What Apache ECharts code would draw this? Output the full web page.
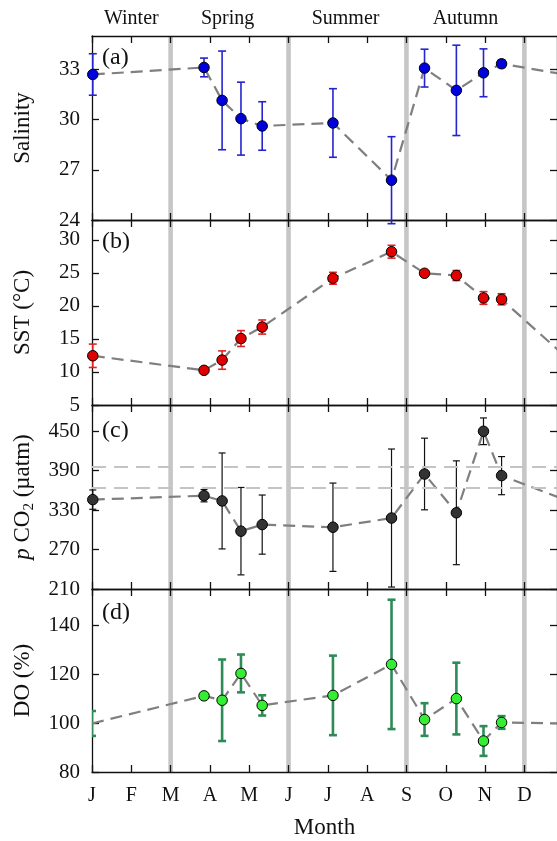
<!DOCTYPE html>
<html>
<head>
<meta charset="utf-8">
<script src="https://cdn.jsdelivr.net/npm/echarts@6/dist/echarts.min.js"></script>
<style>
  html, body { margin: 0; padding: 0; background: #fff; }
  #chart { width: 557px; height: 841px; }
</style>
</head>
<body>
<div id="chart"></div>
<script>
// Month axis: 0 = start of January, one unit per month
const monthNames = ['J', 'F', 'M', 'A', 'M', 'J', 'J', 'A', 'S', 'O', 'N', 'D'];
const monthTicks = [0, 1, 2, 3, 4, 5, 6, 7, 8, 9, 10, 11];
const seasonNames = ['Winter', 'Spring', 'Summer', 'Autumn'];
const seasonLabelPos = [1, 3.45, 6.45, 9.5];
const seasonBounds = [2, 5, 8, 11];

// Sampling dates (fractional month)
const sampleMonth = [0.02, 2.85, 3.31, 3.79, 4.33, 6.13, 7.62, 8.46, 9.27, 9.96, 10.42];
const doMonth = [0.0, 2.85, 3.31, 3.79, 4.33, 6.13, 7.62, 8.46, 9.27, 9.96, 10.42];

// (a) Salinity
const salinity    = [32.7, 33.12, 31.15, 30.06, 29.62, 29.8, 26.38, 33.08, 31.75, 32.8, 33.34];
const salinityErr = [1.24, 0.56, 2.95, 2.18, 1.45, 2.05, 2.6, 1.13, 2.7, 1.43, 0.22];
// (b) Sea surface temperature
const sst    = [12.45, 10.25, 11.8, 15.06, 16.8, 24.18, 28.2, 24.94, 24.6, 21.2, 21.0];
const sstErr = [1.77, 0.3, 1.39, 1.2, 1.07, 0.9, 0.97, 0.3, 0.76, 0.96, 0.84];
// (c) pCO2
const pco2    = [346, 352, 344, 298, 308, 304, 318, 385, 326, 450, 382.5];
const pco2Err = [14.7, 9.4, 73, 66.5, 45, 67.2, 105, 54.5, 79, 20.3, 29];
const atmPco2Range = [364, 396];
// (d) Dissolved oxygen saturation
const doSat = [99.9, 111.2, 109.4, 120.4, 107.3, 111.4, 124.1, 101.5, 110.1, 92.7, 100.3];
const doErr = [5.1, 0.8, 16.7, 7.75, 4.15, 16.3, 26.5, 6.7, 14.7, 6.1, 2.6];

// Axis ticks
const salTicks = [24, 27, 30, 33];
const sstTicks = [5, 10, 15, 20, 25, 30];
const pco2Ticks = [210, 270, 330, 390, 450];
const doTicks = [80, 100, 120, 140];

const FONT = 'Liberation Serif';
const INK = '#111';
const X_MAX = 11.83;

const panels = [
  { top: 36,  height: 184, min: 24,  max: 35,  ticks: salTicks,  name: 'Salinity', tag: '(a)', tagY: 58 },
  { top: 220, height: 185, min: 5,   max: 33,  ticks: sstTicks,  name: 'SST (°C)', tag: '(b)', tagY: 242 },
  { top: 405, height: 184, min: 210, max: 490, ticks: pco2Ticks, name: '{i|p} CO{s|2} (µatm)', tag: '(c)', tagY: 431 },
  { top: 589, height: 183, min: 80,  max: 155, ticks: doTicks,   name: 'DO (%)', tag: '(d)', tagY: 613 }
];

const axisLine = { show: true, onZero: false, lineStyle: { color: INK, width: 1.3 } };
const tickStyle = (vals) => ({ show: true, inside: true, length: 7, customValues: vals, lineStyle: { color: INK, width: 1.3 } });

const grids = [], xAxes = [], yAxes = [], series = [], graphics = [];

panels.forEach((p, gi) => {
  grids.push({ left: 92, width: 466, top: p.top, height: p.height });

  // bottom month axis
  xAxes.push({
    type: 'value', gridIndex: gi, position: 'bottom', min: 0, max: X_MAX,
    axisLine, axisTick: tickStyle(monthTicks), splitLine: { show: false },
    axisLabel: gi === 3 ? {
      show: true, customValues: monthTicks, margin: 14,
      fontFamily: FONT, fontSize: 20, color: INK,
      formatter: v => monthNames[Math.round(v)]
    } : { show: false },
    name: gi === 3 ? 'Month' : '', nameLocation: 'middle', nameGap: 44,
    nameTextStyle: { fontFamily: FONT, fontSize: 23, color: INK }
  });
  // top month axis (season names above the first panel)
  xAxes.push({
    type: 'value', gridIndex: gi, position: 'top', min: 0, max: X_MAX,
    axisLine, axisTick: tickStyle(monthTicks), splitLine: { show: false },
    axisLabel: gi === 0 ? {
      show: true, customValues: seasonLabelPos, margin: 7,
      fontFamily: FONT, fontSize: 20, color: INK,
      formatter: v => seasonNames[seasonLabelPos.indexOf(v)]
    } : { show: false }
  });
  // left value axis
  yAxes.push({
    type: 'value', gridIndex: gi, position: 'left', min: p.min, max: p.max,
    axisLine, axisTick: tickStyle(p.ticks), splitLine: { show: false },
    axisLabel: { show: true, customValues: p.ticks, margin: 12, fontFamily: FONT, fontSize: 21, color: INK },
    name: p.name, nameLocation: 'middle', nameGap: 55,
    nameTextStyle: {
      fontFamily: FONT, fontSize: 23, color: INK, lineHeight: 28,
      rich: {
        i: { fontFamily: FONT, fontSize: 23, fontStyle: 'italic', color: INK, lineHeight: 28 },
        s: { fontFamily: FONT, fontSize: 15, color: INK, lineHeight: 15, verticalAlign: 'bottom' }
      }
    }
  });
  // right value axis (ticks only)
  yAxes.push({
    type: 'value', gridIndex: gi, position: 'right', min: p.min, max: p.max,
    axisLine, axisTick: tickStyle(p.ticks), splitLine: { show: false },
    axisLabel: { show: false }
  });

  // season divider bars
  series.push({
    type: 'custom', xAxisIndex: gi * 2, yAxisIndex: gi * 2, z: -1, silent: true,
    data: seasonBounds.map(m => [m, p.min]),
    renderItem: (params, api) => {
      const cs = params.coordSys;
      const pt = api.coord([api.value(0), api.value(1)]);
      return { type: 'rect', shape: { x: pt[0] - 2.3, y: cs.y, width: 4.6, height: cs.height },
               style: { fill: '#c6c6c6' } };
    }
  });

  graphics.push({
    type: 'text', x: 102, y: p.tagY,
    style: { text: p.tag, font: '24px "' + FONT + '"', fill: INK, verticalAlign: 'middle' }
  });
});

function errorBars(gi, months, means, errs, color, width, capHalf, clip) {
  return {
    type: 'custom', xAxisIndex: gi * 2, yAxisIndex: gi * 2, z: 1, silent: true, clip: clip,
    data: months.map((m, i) => [m, means[i] - errs[i], means[i] + errs[i]]),
    encode: { x: 0, y: [1, 2] },
    renderItem: (params, api) => {
      const x = api.value(0);
      const lo = api.coord([x, api.value(1)]);
      const hi = api.coord([x, api.value(2)]);
      const st = { stroke: color, lineWidth: width };
      return { type: 'group', children: [
        { type: 'line', shape: { x1: lo[0], y1: lo[1], x2: hi[0], y2: hi[1] }, style: st },
        { type: 'line', shape: { x1: hi[0] - capHalf, y1: hi[1], x2: hi[0] + capHalf, y2: hi[1] }, style: st },
        { type: 'line', shape: { x1: lo[0] - capHalf, y1: lo[1], x2: lo[0] + capHalf, y2: lo[1] }, style: st }
      ] };
    }
  };
}

// mean values joined by a dashed line; the January value is repeated one year later so the
// line runs on to the right-hand edge
function meanLine(gi, months, means, fill, hideFirstMarker) {
  const pts = months.map((m, i) => {
    const v = [m, means[i]];
    return (hideFirstMarker && i === 0) ? { value: v, symbol: 'none' } : v;
  });
  pts.push([months[0] + 12, means[0]]);
  return {
    type: 'line', xAxisIndex: gi * 2, yAxisIndex: gi * 2, z: 2, silent: true,
    data: pts, symbol: 'circle', symbolSize: 10.5, showAllSymbol: true,
    lineStyle: { color: '#7f7f7f', width: 2.2, type: [12, 7] },
    itemStyle: { color: fill, borderColor: '#000', borderWidth: 1 },
    emphasis: { disabled: true }
  };
}

series.push(errorBars(0, sampleMonth, salinity, salinityErr, '#2424d0', 1.6, 4, false));
series.push(meanLine(0, sampleMonth, salinity, '#0000dd', false));
series.push(errorBars(1, sampleMonth, sst, sstErr, '#e02424', 1.6, 4, false));
series.push(meanLine(1, sampleMonth, sst, '#e00000', false));

const pco2Bars = errorBars(2, sampleMonth, pco2, pco2Err, '#111', 1.2, 3.5, false);
pco2Bars.markLine = {
  silent: true, symbol: 'none', label: { show: false },
  lineStyle: { color: '#c4c4c4', width: 2, type: [14, 8] },
  data: atmPco2Range.map(v => ({ yAxis: v }))
};
series.push(pco2Bars);
series.push(meanLine(2, sampleMonth, pco2, '#333333', false));

series.push(errorBars(3, doMonth, doSat, doErr, '#2e8b57', 2.6, 4, true));
series.push(meanLine(3, doMonth, doSat, '#33ee33', true));

const chart = echarts.init(document.getElementById('chart'), null, { renderer: 'canvas' });
chart.setOption({
  backgroundColor: '#fff',
  animation: false,
  grid: grids,
  xAxis: xAxes,
  yAxis: yAxes,
  series: series,
  graphic: graphics
});
</script>
</body>
</html>
